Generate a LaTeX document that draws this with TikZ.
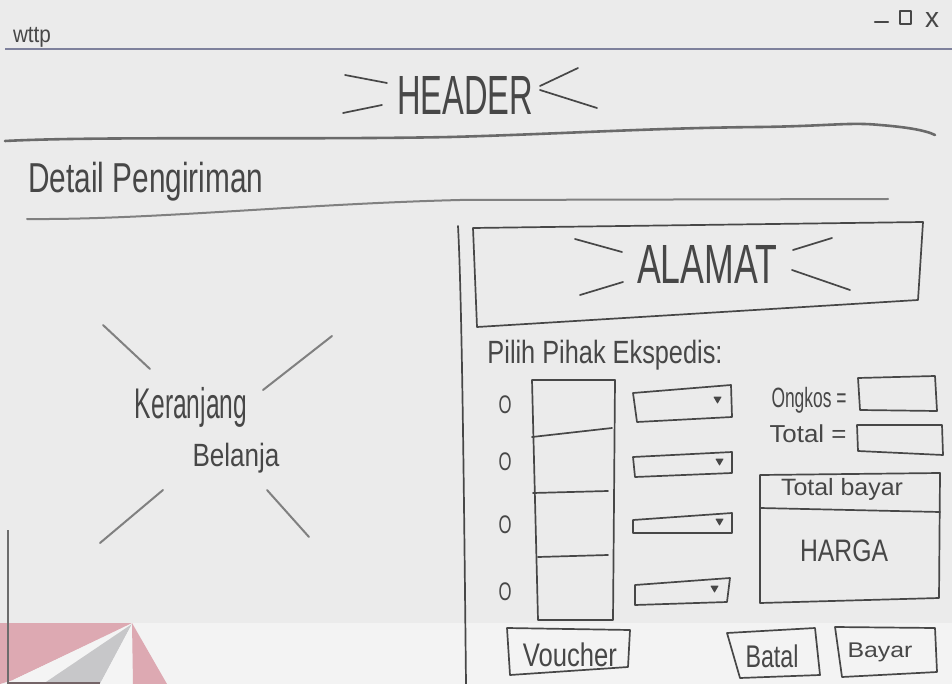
\documentclass[tikz,border=0pt]{standalone}
\usepackage{fontspec}
\setmainfont{Liberation Sans}
\usepackage{graphicx}
\definecolor{paper}{HTML}{EBEBEB}
\definecolor{band}{HTML}{F3F3F3}
\definecolor{inkc}{HTML}{474747}
\definecolor{pencil}{HTML}{6A6A6A}
\definecolor{blueline}{HTML}{7E819C}
\definecolor{wmpink}{HTML}{DDA9B2}
\definecolor{wmgrey}{HTML}{C7C7C9}
\definecolor{wmwhite}{HTML}{F4F4F4}
\newcommand{\fitt}[3]{\resizebox*{#1pt}{#2pt}{#3}}
\tikzset{
  ink/.style={draw=inkc, line width=1.7pt, line cap=round, line join=round},
  pen/.style={draw=pencil, line width=2.6pt, line cap=round, line join=round},
  softpen/.style={draw=pencil!85, line width=2pt, line cap=round, line join=round},
  lbl/.style={inner sep=0pt, outer sep=0pt, text=inkc},
  tri/.style={fill=inkc, draw=inkc, line width=0.8pt, line join=round}
}
\begin{document}
\begin{tikzpicture}[x=1pt,y=-1pt]
% paper
\fill[paper] (0,0) rectangle (952,684);
\fill[band] (0,623) rectangle (952,684);
\useasboundingbox (0,0) rectangle (952,684);
% watermark
\fill[wmpink] (0,623) -- (132,623) -- (13,680) -- (0,684) -- cycle;
\fill[wmwhite] (132,624) -- (13,680) -- (43,684) -- cycle;
\fill[wmgrey] (132,624) -- (43,684) -- (100,684) -- cycle;
\fill[wmwhite] (132,624) -- (100,684) -- (132,684) -- cycle;
\fill[wmpink] (132,623) -- (167,684) -- (133,684) -- cycle;
\draw[draw=inkc!80, line width=2pt] (8,530) -- (8,684);
\draw[draw=inkc!70!wmpink, line width=3pt] (8,683) -- (100,683);

% title bar
\node[lbl] (wttp) at (32,37) {\fitt{38}{20}{wttp}};
\draw[ink, line width=2.4pt] (875,22) -- (888,22);
\draw[ink, line width=2.2pt] (900,11) rectangle (911,24);
\node[lbl] (closex) at (932,20) {\fitt{14}{15}{x}};
\draw[draw=blueline, line width=1.6pt] (5,49) -- (952,49);

% header
\node[lbl] (header) at (465,96) {\fitt{136}{38}{HEADER}};
\draw[ink] (345,75) -- (387,83);
\draw[ink] (343,113) -- (382,105);
\draw[ink] (540,86) -- (578,68);
\draw[ink] (540,90) -- (597,108);
\draw[pen] (5,141) .. controls (100,136) and (300,140) .. (450,137)
  .. controls (560,134) and (650,128) .. (760,127)
  .. controls (830,126) and (850,122) .. (880,125)
  .. controls (905,127) and (925,130) .. (935,135);

% section title
\node[lbl] (detail) at (146,182) {\fitt{235}{39}{Detail Pengiriman}};
\draw[softpen] (27,219) .. controls (150,220) and (300,204) .. (460,200)
  -- (888,199);

% vertical divider
\draw[ink] (458,226) .. controls (462,300) and (464,500) .. (466,684);

% keranjang belanja placeholder
\draw[softpen] (103,325) -- (150,369);
\draw[softpen] (263,390) -- (332,336);
\draw[softpen] (100,543) -- (163,490);
\draw[softpen] (267,490) -- (309,537);
\node[lbl] (keranjang) at (191,407) {\fitt{112}{40}{Keranjang}};
\node[lbl] (belanja) at (236,458) {\fitt{87}{30}{Belanja}};

% alamat box
\draw[ink] (473,228) -- (923,222) -- (918,300) -- (477,327) -- cycle;
\node[lbl] (alamat) at (707,264) {\fitt{140}{38}{ALAMAT}};
\draw[ink] (575,239) -- (622,252);
\draw[ink] (580,295) -- (623,282);
\draw[ink] (793,250) -- (832,238);
\draw[ink] (792,270) -- (850,290);

% expedition choice
\node[lbl] (pilih) at (605,355) {\fitt{235}{30}{Pilih Pihak Ekspedis:}};
\node[lbl] (r1) at (505,405) {\fitt{13}{18}{O}};
\node[lbl] (r2) at (505,462) {\fitt{13}{18}{O}};
\node[lbl] (r3) at (505,525) {\fitt{13}{18}{O}};
\node[lbl] (r4) at (505,592) {\fitt{13}{18}{O}};
\draw[ink] (532,380) -- (615,380) -- (613,620) -- (538,620) -- cycle;
\draw[ink] (532,437) -- (612,428);
\draw[ink] (533,493) -- (608,491);
\draw[ink] (538,557) -- (608,555);
% dropdowns
\draw[ink] (633,393) -- (731,385) -- (732,417) -- (637,422) -- cycle;
\draw[tri] (714,397) -- (721,397) -- (717.5,403) -- cycle;
\draw[ink] (633,457) -- (732,452) -- (732,473) -- (635,477) -- cycle;
\draw[tri] (716,459) -- (723,459) -- (719.5,465) -- cycle;
\draw[ink] (633,520) -- (732,513) -- (732,533) -- (633,533) -- cycle;
\draw[tri] (716,519) -- (723,519) -- (719.5,525) -- cycle;
\draw[ink] (635,585) -- (730,578) -- (727,602) -- (635,605) -- cycle;
\draw[tri] (711,586) -- (718,586) -- (714.5,592) -- cycle;

% cost fields
\node[lbl] (ongkos) at (809,400) {\fitt{75}{26}{Ongkos =}};
\draw[ink] (858,378) -- (935,376) -- (937,411) -- (860,410) -- cycle;
\node[lbl] (total) at (808,434) {\fitt{77}{18}{Total =}};
\draw[ink] (857,425) -- (942,425) -- (943,455) -- (858,451) -- cycle;

% total bayar panel
\draw[ink] (760,475) -- (940,473) -- (939,598) -- (760,603) -- cycle;
\draw[ink] (760,508) -- (940,512);
\node[lbl] (totalbayar) at (842,489) {\fitt{122}{22}{Total bayar}};
\node[lbl] (harga) at (844,551) {\fitt{88}{22}{HARGA}};

% buttons
\draw[ink] (507,628) -- (630,630) -- (628,667) -- (510,675) -- cycle;
\node[lbl] (voucher) at (570,655) {\fitt{94}{24}{Voucher}};
\draw[ink] (727,633) -- (815,628) -- (820,675) -- (740,678) -- cycle;
\node[lbl] (batal) at (772,656) {\fitt{53}{23}{Batal}};
\draw[ink] (835,627) -- (935,628) -- (937,672) -- (842,677) -- cycle;
\node[lbl] (bayar) at (880,652) {\fitt{65}{19}{Bayar}};
\end{tikzpicture}
\end{document}
